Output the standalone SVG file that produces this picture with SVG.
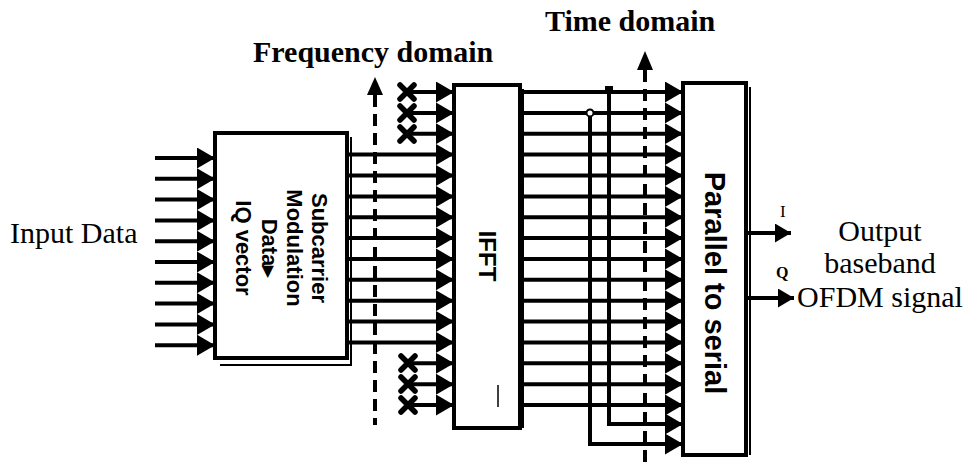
<svg xmlns="http://www.w3.org/2000/svg" width="971" height="471" viewBox="0 0 971 471">
<style>
.box{fill:#fff;stroke:#000;stroke-width:4}
.sh{fill:none;stroke:#000;stroke-width:2}
.ln{fill:none;stroke:#000;stroke-width:4}
.dash{fill:none;stroke:#000;stroke-width:4;stroke-dasharray:12 7}
.lbl{font-family:"Liberation Serif","Times New Roman",serif;font-size:30px;fill:#000}
.hd{font-family:"Liberation Serif","Times New Roman",serif;font-size:30px;font-weight:bold;fill:#000}
.bx{font-family:"Liberation Sans",Arial,sans-serif;font-weight:bold;fill:#000;text-anchor:middle}
.xm{fill:none;stroke:#000;stroke-width:5.5;stroke-linecap:round}
</style>
<defs>
<marker id="ah" markerUnits="userSpaceOnUse" markerWidth="19" markerHeight="21" refX="18" refY="10.5" orient="auto">
<path d="M0,0 L18,10.5 L0,21 z" fill="#000"/>
</marker>
<marker id="ao" markerUnits="userSpaceOnUse" markerWidth="17" markerHeight="19" refX="16" refY="9.5" orient="auto">
<path d="M0,0 L16,9.5 L0,19 z" fill="#000"/>
</marker>
</defs>

<g id="input-label"><text class="lbl" x="10" y="243">Input Data</text></g>

<g id="freq-domain">
<text class="hd" x="253" y="62">Frequency domain</text>
<path d="M367,95 L375,77 L383,95 z" fill="#000"/>
<line class="dash" x1="375" y1="95" x2="375" y2="425"/>
</g>

<g id="time-domain">
<text class="hd" x="545" y="31">Time domain</text>
<path d="M637,70 L645,51 L653,70 z" fill="#000"/>
<line class="dash" x1="645" y1="70" x2="645" y2="466"/>
</g>

<g id="subcarrier-mod">
<path class="sh" d="M351,137 V365 H220"/>
<rect class="box" x="215" y="133" width="132" height="225"/>
<text class="bx" font-size="22" transform="translate(312,248) rotate(90)">Subcarrier</text>
<text class="bx" font-size="22" transform="translate(287,248) rotate(90)">Modulation</text>
<text class="bx" font-size="22" transform="translate(262,248) rotate(90)">Data▸</text>
<text class="bx" font-size="22" transform="translate(236,248) rotate(90)">IQ vector</text>
</g>

<g id="ifft">
<path class="sh" d="M523,89 V428"/>
<rect class="box" x="454" y="85" width="66" height="343"/>
<text class="bx" font-size="24" transform="translate(479,256) rotate(90)">IFFT</text>
<line x1="498" y1="385" x2="498" y2="407" stroke="#000" stroke-width="1.5"/>
</g>

<g id="p2s">
<path class="sh" d="M750,87 V455"/>
<rect class="box" x="683" y="83" width="63" height="372"/>
<text class="bx" font-size="29" transform="translate(705,283) rotate(90)">Parallel to serial</text>
</g>

<g id="output-label">
<text class="lbl" x="880" y="241" text-anchor="middle">Output</text>
<text class="lbl" x="880" y="273" text-anchor="middle">baseband</text>
<text class="lbl" x="880" y="307" text-anchor="middle">OFDM signal</text>
<text font-family="Liberation Serif,serif" font-size="17" x="780" y="217">I</text>
<text font-family="Liberation Serif,serif" font-size="16" font-weight="bold" x="776" y="278">Q</text>
</g>

<g id="null-carriers">
<path class="xm" d="M400,85 L414,99 M414,85 L400,99 M400,106 L414,120 M414,106 L400,120 M400,127 L414,141 M414,127 L400,141"/>
<path class="xm" d="M401,356 L415,370 M415,356 L401,370 M401,377 L415,391 M415,377 L401,391 M401,398 L415,412 M415,398 L401,412"/>
</g>

<g id="connectors" class="ln" marker-end="url(#ah)">
<path d="M155,158 H215"/>
<path d="M155,178.8 H215"/>
<path d="M155,199.6 H215"/>
<path d="M155,220.4 H215"/>
<path d="M155,241.2 H215"/>
<path d="M155,262 H215"/>
<path d="M155,282.8 H215"/>
<path d="M155,303.6 H215"/>
<path d="M155,324.4 H215"/>
<path d="M155,345.2 H215"/>

<path d="M407,92 H454"/>
<path d="M407,112.9 H454"/>
<path d="M407,133.7 H454"/>
<path d="M349,154.6 H454"/>
<path d="M349,175.5 H454"/>
<path d="M349,196.4 H454"/>
<path d="M349,217.2 H454"/>
<path d="M349,238.1 H454"/>
<path d="M349,259 H454"/>
<path d="M349,279.8 H454"/>
<path d="M349,300.7 H454"/>
<path d="M349,321.6 H454"/>
<path d="M349,342.4 H454"/>
<path d="M408,363.3 H454"/>
<path d="M408,384.2 H454"/>
<path d="M408,405 H454"/>

<path d="M522,92 H683"/>
<path d="M522,112.9 H683"/>
<path d="M522,133.7 H683"/>
<path d="M522,154.6 H683"/>
<path d="M522,175.5 H683"/>
<path d="M522,196.4 H683"/>
<path d="M522,217.2 H683"/>
<path d="M522,238.1 H683"/>
<path d="M522,259 H683"/>
<path d="M522,279.8 H683"/>
<path d="M522,300.7 H683"/>
<path d="M522,321.6 H683"/>
<path d="M522,342.4 H683"/>
<path d="M522,363.3 H683"/>
<path d="M522,384.2 H683"/>
<path d="M522,405 H683"/>
<path d="M609,92 V424 H683"/>
<path d="M590,112.9 V444 H683"/>

<path d="M748,233 H791" marker-end="url(#ao)"/>
<path d="M748,298 H794" marker-end="url(#ao)"/>
</g>
<g id="junctions">
<rect x="605" y="86" width="8" height="7" fill="#000"/>
<circle cx="590" cy="112.9" r="3.5" fill="#fff" stroke="#000" stroke-width="2"/>
</g>
</svg>
